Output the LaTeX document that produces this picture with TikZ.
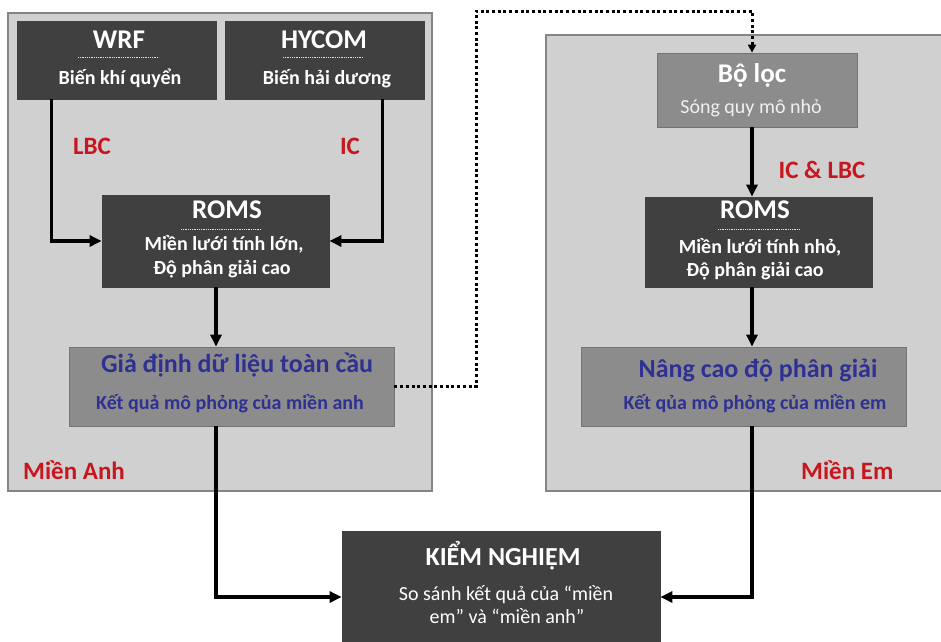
\documentclass[tikz,border=0pt]{standalone}
\usepackage{fontspec}
\setmainfont{Carlito}
\usetikzlibrary{arrows.meta,positioning,calc}
\definecolor{panelgray}{HTML}{D0D0D0}
\definecolor{paneledge}{HTML}{858585}
\definecolor{boxdark}{HTML}{404040}
\definecolor{boxmid}{HTML}{8C8C8C}
\definecolor{textblue}{HTML}{2E3192}
\definecolor{textred}{HTML}{C8161E}
\newcommand{\fsz}[1]{\fontsize{#1}{#1}\selectfont}

\begin{document}
\begin{tikzpicture}[x=1pt, y=-1pt,
  panel/.style={draw=paneledge, fill=panelgray, line width=1.2pt},
  darkbox/.style={draw=black!75, fill=boxdark, line width=0.8pt, inner sep=0pt},
  midbox/.style={draw=black!55, fill=boxmid, line width=0.8pt, inner sep=0pt},
  txt/.style={anchor=base, inner sep=0pt, text=white},
  head/.style={txt, font=\fsz{27}\bfseries},
  sub/.style={txt, font=\fsz{20}\bfseries},
  plain/.style={txt, font=\fsz{20}},
  bluehead/.style={txt, text=textblue, font=\fsz{26}\bfseries},
  bluesub/.style={txt, text=textblue, font=\fsz{20}\bfseries},
  redlbl/.style={inner sep=0pt, text=textred, font=\fsz{25}\bfseries},
  sepline/.style={draw=white!80!gray, line width=0.8pt, densely dotted},
  flow/.style={-{Triangle[length=12pt, width=11pt]}, line width=3.5pt},
  link/.style={-{Triangle[length=8pt, width=8pt]}, line width=3pt, dash pattern=on 3pt off 2.7pt}]
  \useasboundingbox (0,0) rectangle (941,641);
  \fill[white] (0,0) rectangle (941,641);
  \draw[panel] (8,13) rectangle (432,491);
  \draw[panel] (546,35) rectangle (960,491);

  \node[darkbox, minimum width=199pt, minimum height=78pt] (wrf) at (116.5,60) {};
  \node[darkbox, minimum width=199pt, minimum height=78pt] (hycom) at (324.5,60) {};
  \node[darkbox, minimum width=227pt, minimum height=92pt] (romsA) at (215.5,241) {};
  \node[midbox, minimum width=325pt, minimum height=79pt] (global) at (231.5,386.5) {};
  \node[midbox, minimum width=200pt, minimum height=74pt] (filter) at (757,90) {};
  \node[darkbox, minimum width=227pt, minimum height=90pt] (romsE) at (758.5,242) {};
  \node[midbox, minimum width=325pt, minimum height=79pt] (refine) at (743.5,386.5) {};
  \node[darkbox, minimum width=318pt, minimum height=132pt] (verify) at (501,597) {};

  \node[head] (wrfhead) at (119,48) {WRF};
  \draw[sepline] (78,57) -- (159,57);
  \node[sub] (wrfsub) at (120,84) {Biến khí quyển};
  \node[head] (hycomhead) at (324,48) {HYCOM};
  \draw[sepline] (283,57) -- (363,57);
  \node[sub] (hycomsub) at (327,84) {Biến hải dương};

  \node[head] (romsAhead) at (227,218) {ROMS};
  \draw[sepline] (181,229) -- (262,229);
  \node[sub] (romsAone) at (224,250) {Miền lưới tính lớn,};
  \node[sub] (romsAtwo) at (222,274) {Độ phân giải cao};

  \node[bluehead] (globalhead) at (237,372) {Giả định dữ liệu toàn cầu};
  \node[bluesub] (globalsub) at (230,409) {Kết quả mô phỏng của miền anh};

  \node[head] (filterhead) at (752,82) {Bộ lọc};
  \node[plain, text=white!88!gray] (filtersub) at (751,113) {Sóng quy mô nhỏ};

  \node[head] (romsEhead) at (755,218) {ROMS};
  \draw[sepline] (718,229) -- (800,229);
  \node[sub] (romsEone) at (760,253) {Miền lưới tính nhỏ,};
  \node[sub] (romsEtwo) at (755,276) {Độ phân giải cao};

  \node[bluehead] (refinehead) at (758,377) {Nâng cao độ phân giải};
  \node[bluesub] (refinesub) at (755,409) {Kết qủa mô phỏng của miền em};

  \node[txt, font=\fsz{26}\bfseries] (verifyhead) at (503,565) {KIỂM NGHIỆM};
  \node[plain] (verifyone) at (506,600) {So sánh kết quả của “miền};
  \node[plain] (verifytwo) at (507,623) {em” và “miền anh”};

  \node[redlbl] (lbc) at (92,146) {LBC};
  \node[redlbl] (ic) at (350,146) {IC};
  \node[redlbl] (iclbc) at (822,170) {IC \& LBC};
  \node[redlbl, anchor=base west] (mienanh) at (23,479) {Miền Anh};
  \node[redlbl, anchor=base west] (mienem) at (801,479) {Miền Em};

  \coordinate (colA) at (216,0);
  \coordinate (colE) at (752,0);
  \coordinate (hop) at (476,11);

  \draw[flow] ([xshift=35pt]wrf.south west) |- (romsA.west);
  \draw[flow] ([xshift=-42pt]hycom.south east) |- (romsA.east);
  \draw[flow] (romsA.south -| colA) -- (global.north -| colA);
  \draw[flow] (global.south -| colA) |- (verify.west);
  \draw[link] (global.east) -| (hop) -| (filter.north -| colE);
  \draw[flow] (filter.south -| colE) -- (romsE.north -| colE);
  \draw[flow] (romsE.south -| colE) -- (refine.north -| colE);
  \draw[flow] (refine.south -| colE) |- (verify.east);
\end{tikzpicture}
\end{document}
